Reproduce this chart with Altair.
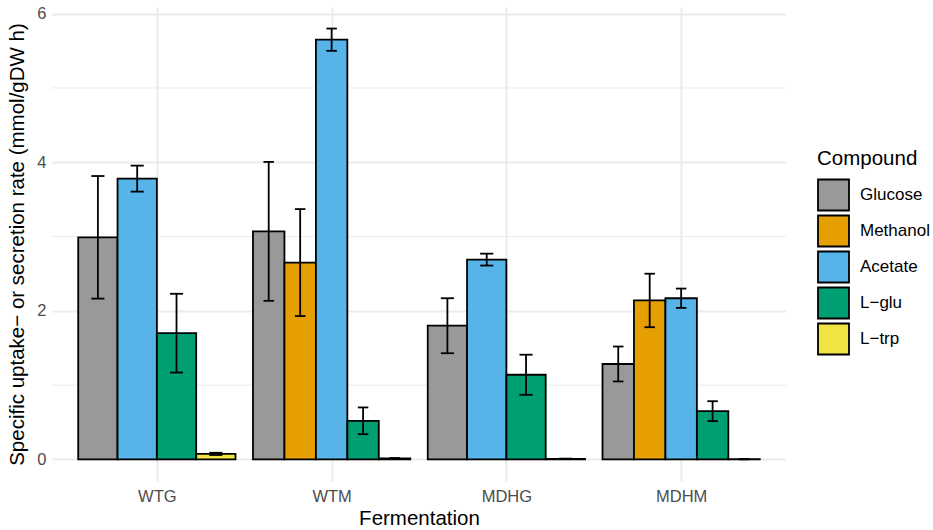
import altair as alt
import pandas as pd

# Groups on the x axis and the compounds measured in each
fermentations = ["WTG", "WTM", "MDHG", "MDHM"]
compounds = ["Glucose", "Methanol", "Acetate", "L\u2212glu", "L\u2212trp"]
palette = ["#999999", "#E69F00", "#56B4E9", "#009E73", "#F0E442"]

fermentation = ["WTG"] * 4 + ["WTM"] * 5 + ["MDHG"] * 4 + ["MDHM"] * 5
compound = [
    "Glucose", "Acetate", "L\u2212glu", "L\u2212trp",
    "Glucose", "Methanol", "Acetate", "L\u2212glu", "L\u2212trp",
    "Glucose", "Acetate", "L\u2212glu", "L\u2212trp",
    "Glucose", "Methanol", "Acetate", "L\u2212glu", "L\u2212trp",
]
rate = [
    2.99, 3.78, 1.70, 0.075,
    3.07, 2.65, 5.65, 0.52, 0.015,
    1.80, 2.69, 1.14, 0.008,
    1.285, 2.14, 2.17, 0.65, 0.004,
]
rate_err = [
    0.825, 0.175, 0.53, 0.015,
    0.935, 0.72, 0.15, 0.18, 0.004,
    0.37, 0.08, 0.27, 0.003,
    0.235, 0.36, 0.13, 0.134, 0.002,
]
minor_breaks = [1, 3, 5]

df = pd.DataFrame({
    "Fermentation": fermentation,
    "Compound": compound,
    "rate": rate,
    "err": rate_err,
})

ferm_list = "[" + ",".join(f"'{f}'" for f in fermentations) + "]"
comp_list = "[" + ",".join(f"'{c}'" for c in compounds) + "]"

FONT = "Liberation Sans"
GRID = "#EBEBEB"
LW = 1.8

# dodge: bars of a group share 0.9 of the group's slot
base = (
    alt.Chart(df)
    .transform_calculate(
        grp=f"indexof({ferm_list}, datum.Fermentation) + 1",
        cidx=f"indexof({comp_list}, datum.Compound)",
        base="0",
    )
    .transform_window(slot="row_number()", groupby=["Fermentation"], sort=[alt.SortField("cidx")])
    .transform_joinaggregate(n="count()", groupby=["Fermentation"])
    .transform_calculate(
        x0="datum.grp - 0.45 + (datum.slot - 1) * 0.9 / datum.n",
        x1="datum.grp - 0.45 + datum.slot * 0.9 / datum.n",
    )
    .transform_calculate(
        xc="(datum.x0 + datum.x1) / 2",
        lo="datum.rate - datum.err",
        hi="datum.rate + datum.err",
    )
    .transform_calculate(
        c0="datum.xc - 0.15 / datum.n",
        c1="datum.xc + 0.15 / datum.n",
    )
)

xscale = alt.Scale(domain=[0.4, 4.6], nice=False, zero=False)
yscale = alt.Scale(domain=[-0.29, 6.09], nice=False, zero=False)

xaxis = alt.Axis(
    values=[1, 2, 3, 4],
    labelExpr=f"{ferm_list}[datum.value - 1]",
    title="Fermentation",
    grid=True,
)
yaxis = alt.Axis(
    values=[0, 2, 4, 6],
    title="Specific uptake\u2212 or secretion rate (mmol/gDW h)",
    grid=True,
)

minor = (
    alt.Chart(pd.DataFrame({"v": minor_breaks}))
    .mark_rule(color=GRID, strokeWidth=1)
    .encode(y=alt.Y("v:Q", scale=yscale, axis=yaxis))
)

bars = base.mark_rect(stroke="black", strokeWidth=LW).encode(
    x=alt.X("x0:Q", scale=xscale, axis=xaxis),
    x2="x1:Q",
    y=alt.Y("rate:Q", scale=yscale, axis=yaxis),
    y2="base:Q",
    fill=alt.Fill(
        "Compound:N",
        scale=alt.Scale(domain=compounds, range=palette),
        legend=alt.Legend(
            title="Compound",
            orient="none",
            legendX=765,
            legendY=142,
            symbolType="square",
            symbolSize=961,
            symbolStrokeColor="black",
            symbolStrokeWidth=LW,
            symbolOpacity=1,
            labelFontSize=17,
            labelFont=FONT,
            labelColor="black",
            labelOffset=10,
            titleFontSize=20.5,
            titleFont=FONT,
            titleFontWeight="normal",
            titleColor="black",
            titlePadding=9,
            rowPadding=-10,
            padding=0,
        ),
    ),
)

whisker = base.mark_rule(color="black", strokeWidth=LW).encode(
    x=alt.X("xc:Q", scale=xscale, axis=xaxis),
    y=alt.Y("lo:Q", scale=yscale, axis=yaxis),
    y2="hi:Q",
)
cap_hi = base.mark_rule(color="black", strokeWidth=LW).encode(
    x=alt.X("c0:Q", scale=xscale, axis=xaxis),
    x2="c1:Q",
    y=alt.Y("hi:Q", scale=yscale, axis=yaxis),
)
cap_lo = base.mark_rule(color="black", strokeWidth=LW).encode(
    x=alt.X("c0:Q", scale=xscale, axis=xaxis),
    x2="c1:Q",
    y=alt.Y("lo:Q", scale=yscale, axis=yaxis),
)

chart = (
    alt.layer(minor, bars, whisker, cap_hi, cap_lo)
    .properties(
        width=734,
        height=474,
        padding={"left": 52, "top": 7, "right": 147, "bottom": 49},
        autosize=alt.AutoSizeParams(type="none"),
    )
    .configure_view(stroke=None)
    .configure_axis(
        labelFont=FONT,
        labelFontSize=16.5,
        labelColor="#4D4D4D",
        titleFont=FONT,
        titleFontSize=20.5,
        titleFontWeight="normal",
        titleColor="black",
        gridColor=GRID,
        gridWidth=2,
        domain=False,
        ticks=False,
    )
    .configure_axisX(labelPadding=7, titlePadding=4)
    .configure_axisY(labelPadding=6, titlePadding=9)
)

chart.save("out.html", embed_options={"renderer": "svg", "actions": False})
